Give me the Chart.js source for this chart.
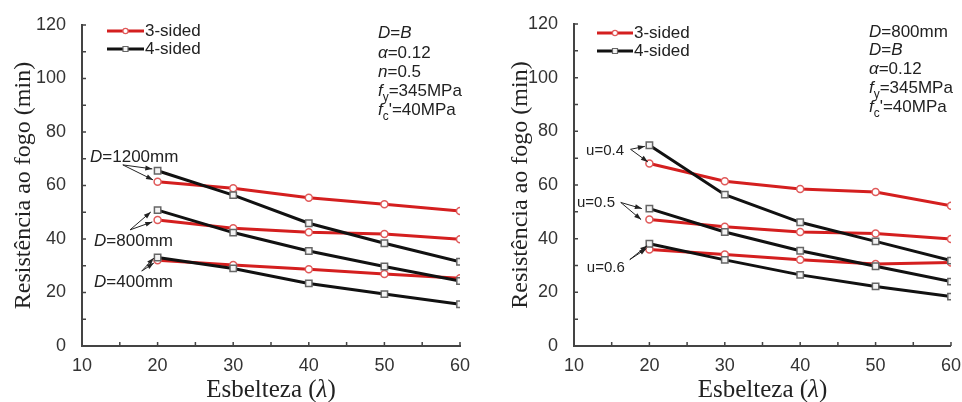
<!DOCTYPE html>
<html>
<head>
<meta charset="utf-8">
<script src="https://cdn.jsdelivr.net/npm/chart.js@4.4.1/dist/chart.umd.min.js"></script>
<style>
  body { margin: 0; background: #fff; }
  .panel { position: absolute; top: 0; height: 402px; }
  #left { left: 0; width: 480px; }
  #right { left: 480px; width: 482px; }
</style>
</head>
<body>
<div class="panel" id="left"><canvas id="chartD" width="480" height="402"></canvas></div>
<div class="panel" id="right"><canvas id="chartU" width="482" height="402"></canvas></div>
<script>
// Esbelteza (lambda) — common x values
const lambda = [20, 30, 40, 50, 60];

// Left panel: column size D (3-sided / 4-sided exposure)
const d1200_3 = [61.4, 59.0, 55.4, 53.0, 50.5];
const d1200_4 = [65.5, 56.4, 45.9, 38.4, 31.5];
const d800_3 = [47.1, 44.0, 42.5, 41.9, 39.9];
const d800_4 = [50.8, 42.4, 35.5, 29.7, 24.3];
const d400_3 = [32.1, 30.3, 28.7, 26.9, 25.3];
const d400_4 = [33.1, 29.0, 23.4, 19.4, 15.6];

// Right panel: load ratio u
const u04_3 = [68.0, 61.4, 58.5, 57.4, 52.3];
const u04_4 = [74.8, 56.4, 46.1, 39.0, 31.8];
const u05_3 = [47.1, 44.4, 42.5, 41.9, 39.9];
const u05_4 = [51.2, 42.5, 35.5, 29.7, 24.0];
const u06_3 = [36.0, 34.1, 32.1, 30.6, 31.1];
const u06_4 = [38.1, 32.1, 26.5, 22.2, 18.4];

const xTicks = { min: 10, max: 60, step: 10 };
const yTicks = { min: 0, max: 120, step: 20 };

const RED = '#d41f1f';
const BLACK = '#111111';
const AXIS = '#444444';
const SANS = "'Liberation Sans', Arial, sans-serif";
const SERIF = "'Liberation Serif', 'Times New Roman', serif";

const redStyle = {
  borderColor: RED, borderWidth: 3, pointStyle: 'circle', pointRadius: 3.5,
  pointBackgroundColor: '#fff', pointBorderColor: '#e05a5a', pointBorderWidth: 1.5
};
const blackStyle = {
  borderColor: BLACK, borderWidth: 3, pointStyle: 'rect', pointRadius: 4.5,
  pointBackgroundColor: '#f4f4f4', pointBorderColor: '#666', pointBorderWidth: 1.5
};

function series(values, style) {
  return Object.assign({
    data: values.map((v, i) => ({ x: lambda[i], y: v })),
    tension: 0, fill: false
  }, style);
}

// texts, arrows and legend of each panel
const decor = {
  chartD: {
    titleX: 24,
    legend: { dx: 25, rows: [31, 49], len: 37 },
    notesX: 296,
    notes: [
      { y: 33, parts: [['D', 'i'], ['=', ''], ['B', 'i']] },
      { y: 53, parts: [['α', 'i'], ['=0.12', '']] },
      { y: 72, parts: [['n', 'i'], ['=0.5', '']] },
      { y: 91, parts: [['f', 'i'], ['y', 's'], ['=345MPa', '']] },
      { y: 110, parts: [['f', 'i'], ['c', 's'], ["'=40MPa", '']] }
    ],
    labels: [
      { at: [11.06, 70.7], size: 17, parts: [['D', 'i'], ['=1200mm', '']],
        from: [15.4, 67.7], to: [[19.3, 66.2], [19.4, 62.1]] },
      { at: [11.6, 39.3], size: 17, parts: [['D', 'i'], ['=800mm', '']],
        from: [16.35, 43.4], to: [[19.1, 50.1], [19.3, 46.4]] },
      { at: [11.6, 23.9], size: 17, parts: [['D', 'i'], ['=400mm', '']],
        from: [17.9, 28.0], to: [[19.5, 32.9], [19.5, 31.0]] }
    ]
  },
  chartU: {
    titleX: 41,
    legend: { dx: 23, rows: [33, 51], len: 36 },
    notesX: 295,
    notes: [
      { y: 32, parts: [['D', 'i'], ['=800mm', '']] },
      { y: 50, parts: [['D', 'i'], ['=', ''], ['B', 'i']] },
      { y: 69, parts: [['α', 'i'], ['=0.12', '']] },
      { y: 88, parts: [['f', 'i'], ['y', 's'], ['=345MPa', '']] },
      { y: 107, parts: [['f', 'i'], ['c', 's'], ["'=40MPa", '']] }
    ],
    labels: [
      { at: [11.6, 72.9], size: 15, parts: [['u=0.4', '']],
        from: [17.5, 73.3], to: [[19.4, 74.4], [19.8, 68.6]] },
      { at: [10.4, 53.5], size: 15, parts: [['u=0.5', '']],
        from: [16.2, 53.5], to: [[19.0, 51.2], [18.9, 47.1]] },
      { at: [11.7, 29.2], size: 15, parts: [['u=0.6', '']],
        from: [17.4, 32.2], to: [[19.7, 37.4], [19.6, 36.3]] }
    ]
  }
};

function partsWidth(ctx, parts, size, family) {
  let w = 0;
  parts.forEach(([t, st]) => {
    const fs = st === 's' ? size * 0.7 : size;
    ctx.font = `${st === 'i' ? 'italic ' : ''}${fs}px ${family}`;
    w += ctx.measureText(t).width;
  });
  return w;
}

function drawParts(ctx, x, y, parts, size, family) {
  ctx.textBaseline = 'middle';
  ctx.textAlign = 'left';
  let cx = x;
  parts.forEach(([t, st]) => {
    const fs = st === 's' ? size * 0.7 : size;
    ctx.font = `${st === 'i' ? 'italic ' : ''}${fs}px ${family}`;
    ctx.fillText(t, cx, st === 's' ? y + size * 0.38 : y);
    cx += ctx.measureText(t).width;
  });
}

function arrow(ctx, x0, y0, x1, y1) {
  const a = Math.atan2(y1 - y0, x1 - x0);
  ctx.beginPath();
  ctx.moveTo(x0, y0);
  ctx.lineTo(x1, y1);
  ctx.stroke();
  ctx.beginPath();
  ctx.moveTo(x1, y1);
  ctx.lineTo(x1 - 7 * Math.cos(a) + 2.5 * Math.sin(a), y1 - 7 * Math.sin(a) - 2.5 * Math.cos(a));
  ctx.lineTo(x1 - 7 * Math.cos(a) - 2.5 * Math.sin(a), y1 - 7 * Math.sin(a) + 2.5 * Math.cos(a));
  ctx.closePath();
  ctx.fill();
}

const panelDecor = {
  id: 'panelDecor',
  afterDraw(chart) {
    const cfg = decor[chart.canvas.id];
    const { ctx, chartArea: area, scales: { x, y } } = chart;
    ctx.save();

    // inward minor ticks
    ctx.strokeStyle = AXIS;
    ctx.lineWidth = 1.5;
    ctx.beginPath();
    for (let v = yTicks.min + 10; v <= yTicks.max; v += 10) {
      const py = y.getPixelForValue(v);
      ctx.moveTo(area.left, py);
      ctx.lineTo(area.left + 4, py);
    }
    for (let v = xTicks.min + 5; v <= xTicks.max; v += 5) {
      const px = x.getPixelForValue(v);
      ctx.moveTo(px, area.bottom);
      ctx.lineTo(px, area.bottom - 4);
    }
    ctx.stroke();

    // axis titles
    ctx.fillStyle = '#222';
    const xt = [['Esbelteza (', ''], ['λ', 'i'], [')', '']];
    const w = partsWidth(ctx, xt, 25, SERIF);
    drawParts(ctx, (area.left + area.right) / 2 - w / 2, 390, xt, 25, SERIF);
    ctx.save();
    ctx.translate(cfg.titleX, (area.top + area.bottom) / 2);
    ctx.rotate(-Math.PI / 2);
    ctx.font = `24px ${SERIF}`;
    ctx.textAlign = 'center';
    ctx.textBaseline = 'middle';
    ctx.fillText('Resistência ao fogo (min)', 0, 0);
    ctx.restore();

    // legend, drawn with the dataset styles
    const lg = cfg.legend;
    [['3-sided', redStyle], ['4-sided', blackStyle]].forEach(([name, st], i) => {
      const ly = lg.rows[i];
      const lx = area.left + lg.dx;
      ctx.strokeStyle = st.borderColor;
      ctx.lineWidth = 3;
      ctx.beginPath();
      ctx.moveTo(lx, ly);
      ctx.lineTo(lx + lg.len, ly);
      ctx.stroke();
      ctx.fillStyle = st.pointBackgroundColor;
      ctx.strokeStyle = st.pointBorderColor;
      ctx.lineWidth = 1.2;
      ctx.beginPath();
      if (st.pointStyle === 'rect') ctx.rect(lx + lg.len / 2 - 2.5, ly - 2.5, 5, 5);
      else ctx.arc(lx + lg.len / 2, ly, 2.6, 0, Math.PI * 2);
      ctx.fill();
      ctx.stroke();
      ctx.fillStyle = '#222';
      drawParts(ctx, lx + lg.len + 1, ly, [[name, '']], 17, SANS);
    });

    // parameter block
    ctx.fillStyle = '#222';
    cfg.notes.forEach(n => drawParts(ctx, area.left + cfg.notesX, n.y, n.parts, 17, SANS));

    // curve labels with arrows
    ctx.strokeStyle = '#222';
    ctx.lineWidth = 1;
    cfg.labels.forEach(lb => {
      ctx.fillStyle = '#222';
      drawParts(ctx, x.getPixelForValue(lb.at[0]), y.getPixelForValue(lb.at[1]), lb.parts, lb.size, SANS);
      const fx = x.getPixelForValue(lb.from[0]);
      const fy = y.getPixelForValue(lb.from[1]);
      lb.to.forEach(t => arrow(ctx, fx, fy, x.getPixelForValue(t[0]), y.getPixelForValue(t[1])));
    });

    ctx.restore();
  }
};

function makeChart(id, datasets, yWidth, padRight, padTop) {
  new Chart(document.getElementById(id), {
    type: 'line',
    data: { datasets },
    options: {
      responsive: false,
      animation: false,
      events: [],
      layout: { padding: { top: padTop, right: padRight, left: 0, bottom: 0 } },
      plugins: { legend: { display: false }, tooltip: { enabled: false } },
      scales: {
        x: {
          type: 'linear', min: xTicks.min, max: xTicks.max,
          grid: { display: false },
          border: { color: AXIS, width: 2 },
          ticks: { stepSize: xTicks.step, color: '#333', padding: 1, font: { family: SANS, size: 18 } },
          afterFit: s => { s.height = 56; }
        },
        y: {
          min: yTicks.min, max: yTicks.max,
          grid: { display: false },
          border: { color: AXIS, width: 2 },
          ticks: { stepSize: yTicks.step, color: '#333', padding: 8, font: { family: SANS, size: 18 } },
          afterFit: s => { s.width = yWidth; }
        }
      }
    },
    plugins: [panelDecor]
  });
}

makeChart('chartD', [
  series(d1200_4, blackStyle), series(d800_4, blackStyle), series(d400_4, blackStyle),
  series(d1200_3, redStyle), series(d800_3, redStyle), series(d400_3, redStyle)
], 82, 20, 25);

makeChart('chartU', [
  series(u04_4, blackStyle), series(u05_4, blackStyle), series(u06_4, blackStyle),
  series(u04_3, redStyle), series(u05_3, redStyle), series(u06_3, redStyle)
], 94, 11, 24);
</script>
</body>
</html>
